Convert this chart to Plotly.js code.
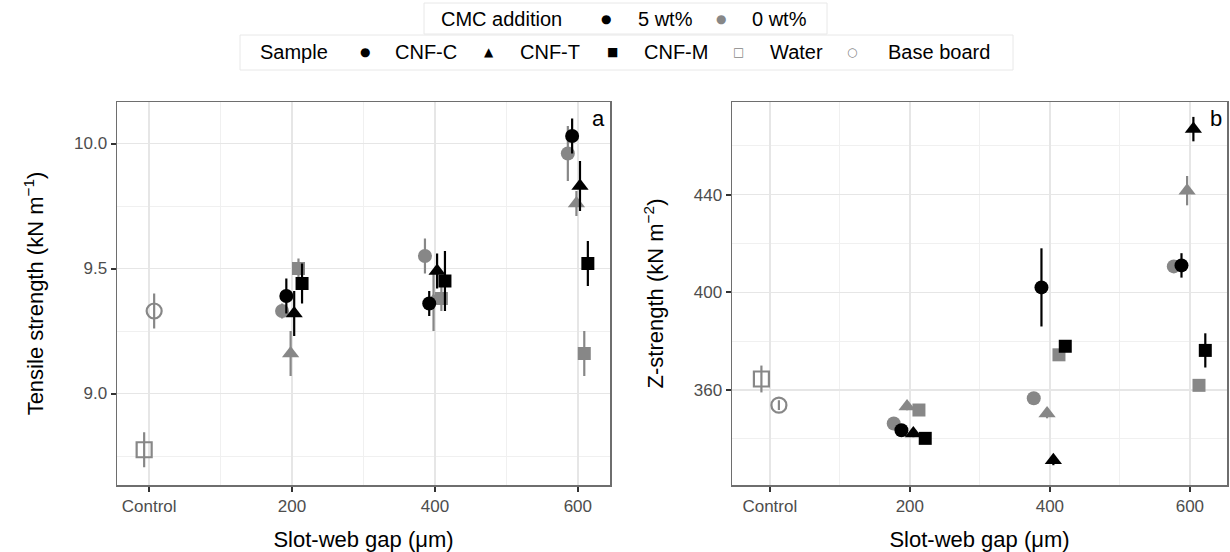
<!DOCTYPE html>
<html><head><meta charset="utf-8">
<script src="https://cdn.plot.ly/plotly-3.0.1.min.js"></script>
<style>html,body{margin:0;padding:0;background:#fff}#chart{width:1230px;height:552px}</style>
</head><body><div id="chart"></div>
<script>
// ---- data ----
const gapTicks = [0, 200, 400, 600];
const gapLabels = ['Control', '200', '400', '600'];
const gaps = [200, 400, 600];
const sampleNames = ['CNF-C', 'CNF-T', 'CNF-M'];
const cmcLevels = ['5 wt%', '0 wt%'];

// Tensile strength (kN m-1)
const tensile_C5 = [9.39, 9.36, 10.03];
const tensile_C5_err = [0.07, 0.05, 0.07];
const tensile_C0 = [9.33, 9.55, 9.96];
const tensile_C0_err = [0.03, 0.07, 0.11];
const tensile_T5 = [9.32, 9.49, 9.83];
const tensile_T5_err = [0.09, 0.07, 0.10];
const tensile_T0 = [9.16, 9.37, 9.76];
const tensile_T0_err = [0.09, 0.12, 0.05];
const tensile_M5 = [9.44, 9.45, 9.52];
const tensile_M5_err = [0.08, 0.12, 0.09];
const tensile_M0 = [9.50, 9.38, 9.16];
const tensile_M0_err = [0.04, 0.05, 0.09];
const tensile_water = [8.775], tensile_water_err = [0.07];
const tensile_base = [9.33], tensile_base_err = [0.07];

// Z-strength (kN m-2)
const z_C5 = [343.5, 402.0, 411.0];
const z_C5_err = [1.5, 16, 5];
const z_C0 = [346.3, 356.6, 410.6];
const z_C0_err = [1.5, 2, 2];
const z_T5 = [342.2, 331.2, 466.8];
const z_T5_err = [1.5, 2, 5];
const z_T0 = [353.2, 350.4, 441.6];
const z_T0_err = [1.5, 2, 6];
const z_M5 = [340.2, 377.9, 376.2];
const z_M5_err = [1.5, 2, 7];
const z_M0 = [351.8, 374.4, 361.9];
const z_M0_err = [1.5, 2, 1.5];
const z_water = [364.5], z_water_err = [5.5];
const z_base = [353.8], z_base_err = [2];

// ---- styling ----
const BLACK = '#000000', GREY = '#878787';
const dodgeA = {C0: -14, C5: -8, T0: -2, T5: 3, M0: 9, M5: 14, water: -7, base: 7};
const dodgeB = {C0: -23, C5: -12, T0: -4, T5: 5, M0: 13, M5: 22, water: -12, base: 13};
const sym = {C: 'circle', T: 'triangle-up', M: 'square'};
const msize = {C: 14, T: 15, M: 13};

function trace(xa, ya, xs, ys, errs, off, symbol, size, color, open) {
  return {
    type: 'scatter', mode: 'markers', xaxis: xa, yaxis: ya, showlegend: false, hoverinfo: 'skip',
    x: xs.map(v => v + off), y: ys,
    error_y: {type: 'data', array: errs, visible: true, thickness: 2.2, width: 0, color: color},
    marker: open ? {symbol: symbol, size: size, color: color, line: {color: color, width: 2.2}}
                 : {symbol: symbol, size: size, color: color, line: {width: 0}}
  };
}

const traces = [];
function panel(xa, ya, d, D, water, waterErr, base, baseErr) {
  traces.push(trace(xa, ya, [0], water, waterErr, D.water, 'square-open', 15, GREY, true));
  traces.push(trace(xa, ya, [0], base, baseErr, D.base, 'circle-open', 15, GREY, true));
  ['C', 'T', 'M'].forEach(s => {
    traces.push(trace(xa, ya, gaps, d[s + '0'], d[s + '0e'], D[s + '0'], sym[s], msize[s], GREY, false));
  });
  ['C', 'T', 'M'].forEach(s => {
    traces.push(trace(xa, ya, gaps, d[s + '5'], d[s + '5e'], D[s + '5'], sym[s], msize[s], BLACK, false));
  });
}
panel('x', 'y', {
  C5: tensile_C5, C5e: tensile_C5_err, C0: tensile_C0, C0e: tensile_C0_err,
  T5: tensile_T5, T5e: tensile_T5_err, T0: tensile_T0, T0e: tensile_T0_err,
  M5: tensile_M5, M5e: tensile_M5_err, M0: tensile_M0, M0e: tensile_M0_err
}, dodgeA, tensile_water, tensile_water_err, tensile_base, tensile_base_err);
panel('x2', 'y2', {
  C5: z_C5, C5e: z_C5_err, C0: z_C0, C0e: z_C0_err,
  T5: z_T5, T5e: z_T5_err, T0: z_T0, T0e: z_T0_err,
  M5: z_M5, M5e: z_M5_err, M0: z_M0, M0e: z_M0_err
}, dodgeB, z_water, z_water_err, z_base, z_base_err);

const W = 1230, H = 552;
const px = x => x / W, py = y => 1 - y / H;
const FONT = 'Liberation Sans, Arial, sans-serif';
const GLYPH = 'DejaVu Sans, sans-serif';
const FRAME = '#6e6e6e';

function xax(dom, range) {
  return {
    domain: dom, range: range, tickmode: 'array', tickvals: gapTicks, ticktext: gapLabels,
    ticks: 'outside', ticklen: 5, tickwidth: 2, tickcolor: '#333',
    showline: true, mirror: true, linecolor: FRAME, linewidth: 1.5,
    showgrid: true, gridcolor: '#e6e6e6', gridwidth: 1.5, zeroline: false,
    minor: {tickvals: [100, 300, 500], showgrid: true, gridcolor: '#f0f0f0', gridwidth: 1, ticks: ''},
    tickfont: {size: 17, color: '#4d4d4d', family: FONT},
    title: {text: 'Slot-web gap (μm)', font: {size: 22, color: '#000', family: FONT}, standoff: 16},
    fixedrange: true
  };
}
function yax(anchor, range, dtick, minorVals, title, fmt) {
  return {
    domain: [py(485), py(102)], range: range, anchor: anchor, dtick: dtick, tickformat: fmt,
    ticks: 'outside', ticklen: 5, tickwidth: 2, tickcolor: '#333',
    showline: true, mirror: true, linecolor: FRAME, linewidth: 1.5,
    showgrid: true, gridcolor: '#e6e6e6', gridwidth: 1.5, zeroline: false,
    minor: {tickmode: 'array', tickvals: minorVals, showgrid: true, gridcolor: '#f0f0f0', gridwidth: 1, ticks: ''},
    tickfont: {size: 17, color: '#4d4d4d', family: FONT},
    title: {text: title, font: {size: 22, color: '#000', family: FONT}, standoff: 24},
    fixedrange: true
  };
}

const legendY1 = 19, legendY2 = 52;
function txt(x, y, s, size, color, anchor, fam) {
  return {xref: 'paper', yref: 'paper', x: px(x), y: py(y), text: s, showarrow: false,
          xanchor: anchor || 'left', yanchor: 'middle',
          font: {size: size, color: color || '#000', family: fam || FONT}};
}
const ann = [
  txt(439, legendY1, 'CMC addition', 20),
  txt(606, legendY1, '●', 12, BLACK, 'center', GLYPH),
  txt(636, legendY1, cmcLevels[0], 20),
  txt(721, legendY1, '●', 12, GREY, 'center', GLYPH),
  txt(750, legendY1, cmcLevels[1], 20),
  txt(258, legendY2, 'Sample', 20),
  txt(365, legendY2, '●', 12, BLACK, 'center', GLYPH),
  txt(393, legendY2, sampleNames[0], 20),
  txt(489, legendY2, '▲', 12, BLACK, 'center', GLYPH),
  txt(518, legendY2, sampleNames[1], 20),
  txt(612, legendY2, '■', 12, BLACK, 'center', GLYPH),
  txt(642, legendY2, sampleNames[2], 20),
  txt(738, legendY2, '□', 12, GREY, 'center', GLYPH),
  txt(768, legendY2, 'Water', 20),
  txt(852, legendY2, '○', 12, GREY, 'center', GLYPH),
  txt(886, legendY2, 'Base board', 20),
  {xref: 'paper', yref: 'paper', x: px(607), y: py(104), text: 'a', showarrow: false,
   xanchor: 'right', yanchor: 'top', font: {size: 22, color: '#000', family: FONT}},
  {xref: 'paper', yref: 'paper', x: px(1224), y: py(104), text: 'b', showarrow: false,
   xanchor: 'right', yanchor: 'top', font: {size: 22, color: '#000', family: FONT}}
];
const shapes = [
  {type: 'rect', xref: 'paper', yref: 'paper', x0: px(424), x1: px(827), y0: py(34), y1: py(3),
   line: {color: '#e8e8e8', width: 1}, fillcolor: 'rgba(0,0,0,0)'},
  {type: 'rect', xref: 'paper', yref: 'paper', x0: px(240), x1: px(1013), y0: py(70), y1: py(35),
   line: {color: '#e8e8e8', width: 1}, fillcolor: 'rgba(0,0,0,0)'}
];

const layout = {
  width: W, height: H, margin: {l: 0, r: 0, t: 0, b: 0},
  paper_bgcolor: '#fff', plot_bgcolor: '#fff', showlegend: false,
  font: {family: FONT},
  xaxis: Object.assign(xax([px(117), px(610)], [-45, 645]), {anchor: 'y'}),
  xaxis2: Object.assign(xax([px(732), px(1227)], [-54, 653]), {anchor: 'y2'}),
  yaxis: yax('x', [8.634, 10.166], 0.5, [8.75, 9.25, 9.75], 'Tensile strength (kN m<sup>−1</sup>)', '.1f'),
  yaxis2: yax('x2', [321.1, 477.9], 40, [340, 380, 420, 460], 'Z-strength (kN m<sup>−2</sup>)', 'd'),
  annotations: ann, shapes: shapes
};

Plotly.newPlot('chart', traces, layout, {displayModeBar: false, staticPlot: true});
</script></body></html>
